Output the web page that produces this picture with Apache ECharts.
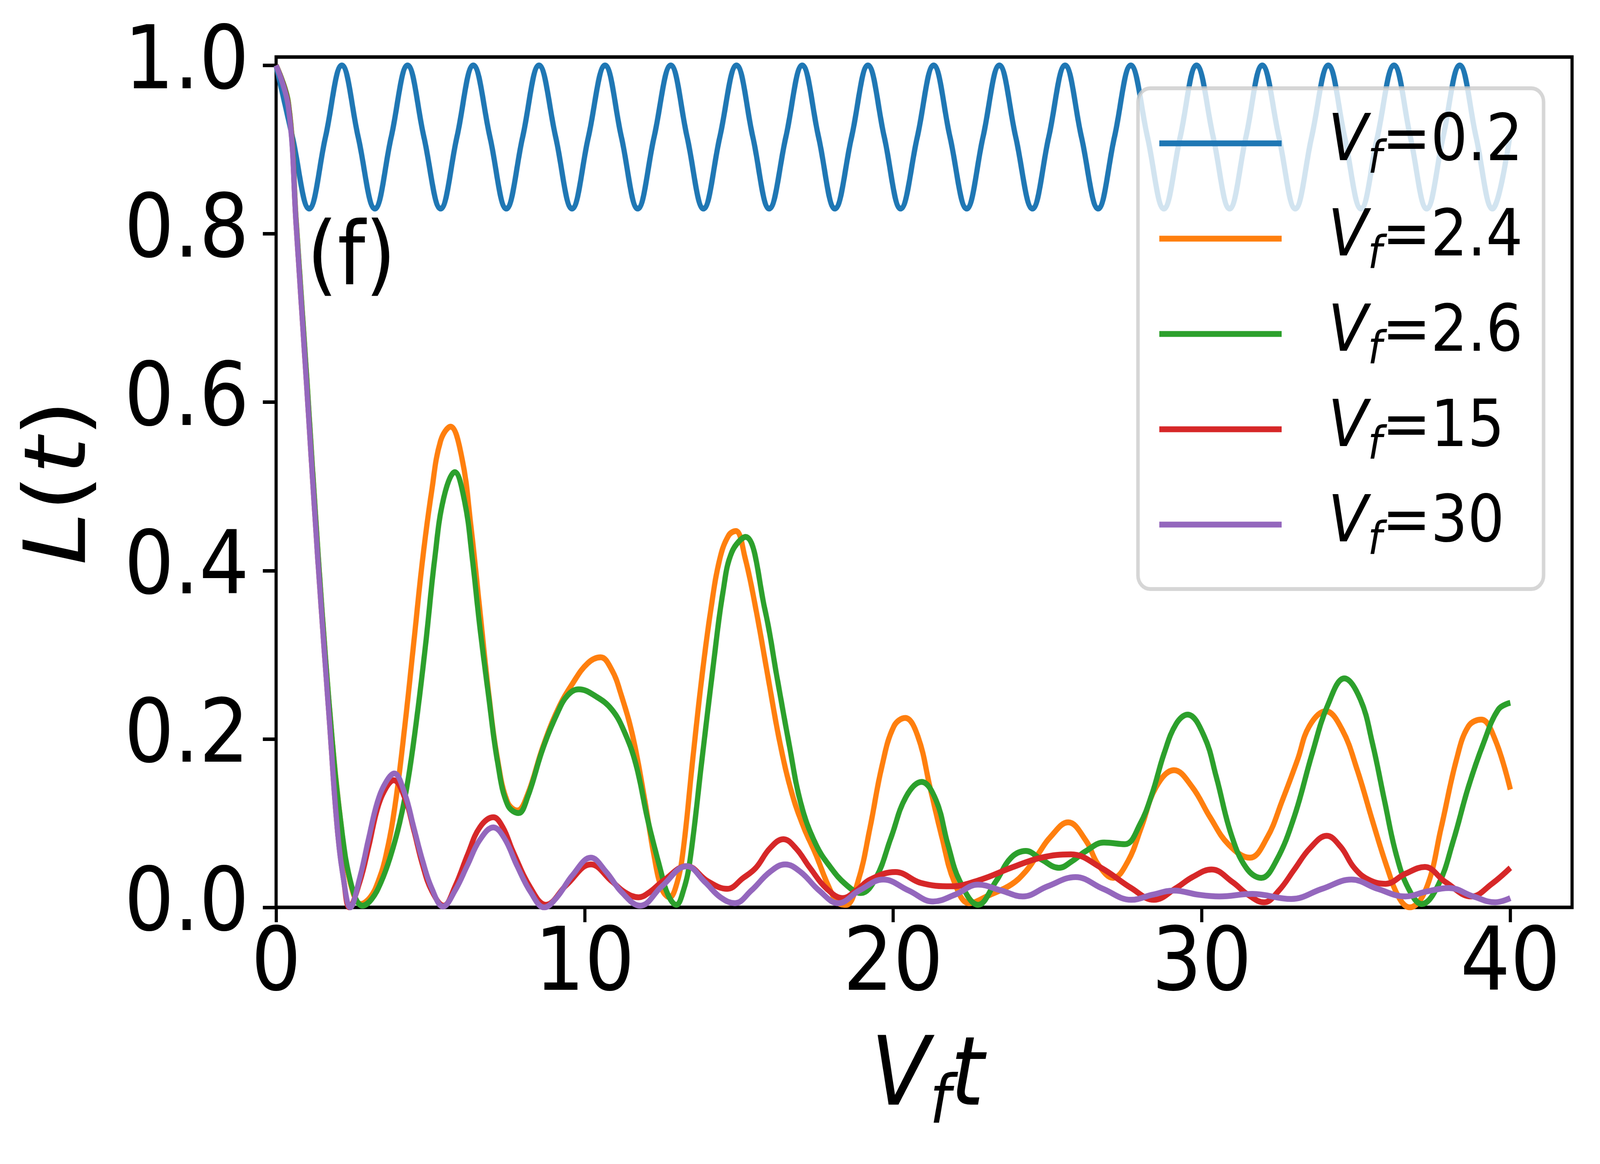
<!DOCTYPE html>
<html>
<head>
<meta charset="utf-8">
<script src="https://cdn.jsdelivr.net/npm/echarts@6/dist/echarts.min.js"></script>
<style>
    html, body {margin: 0; padding: 0; background: #fff; overflow: hidden;}
    #wrap {position: relative; overflow: hidden;}
    #chart {width: 4578px; height: 2980px; transform-origin: 0 0;}
</style>
</head>
<body>
<div id="wrap"><div id="chart"></div></div>
<script>
// ticks
const xTicks = [0, 10, 20, 30, 40];
const yTicks = [0, 0.2, 0.4, 0.6, 0.8, 1.0];

// series names, legend values, colours (tab10)
const names = ['Vf=0.2', 'Vf=2.4', 'Vf=2.6', 'Vf=15', 'Vf=30'];
const legendValues = ['0.2', '2.4', '2.6', '15', '30'];
const colors = ['#1f77b4', '#ff7f0e', '#2ca02c', '#d62728', '#9467bd'];

// Vf=0.2 : peaks, mid points, troughs
const blueT = [0, 0.53, 1.07, 1.60, 2.13, 2.66, 3.20, 3.73, 4.26, 4.79, 5.33, 5.86, 6.39, 6.93, 7.46, 7.99,
    8.52, 9.06, 9.59, 10.12, 10.66, 11.19, 11.72, 12.25, 12.79, 13.32, 13.85, 14.38, 14.92, 15.45, 15.98,
    16.52, 17.05, 17.58, 18.11, 18.65, 19.18, 19.71, 20.24, 20.78, 21.31, 21.84, 22.38, 22.91, 23.44, 23.97,
    24.51, 25.04, 25.57, 26.10, 26.64, 27.17, 27.70, 28.24, 28.77, 29.30, 29.83, 30.37, 30.90, 31.43, 31.96,
    32.50, 33.03, 33.56, 34.10, 34.63, 35.16, 35.69, 36.23, 36.76, 37.29, 37.82, 38.36, 38.89, 39.42, 40.0];
const blueL = [1.0, 0.915, 0.83, 0.915, 1.0, 0.915, 0.83, 0.915, 1.0, 0.915, 0.83, 0.915, 1.0, 0.915, 0.83, 0.915,
    1.0, 0.915, 0.83, 0.915, 1.0, 0.915, 0.83, 0.915, 1.0, 0.915, 0.83, 0.915, 1.0, 0.915, 0.83, 0.915,
    1.0, 0.915, 0.83, 0.915, 1.0, 0.915, 0.83, 0.915, 1.0, 0.915, 0.83, 0.915, 1.0, 0.915, 0.83, 0.915,
    1.0, 0.915, 0.83, 0.915, 1.0, 0.915, 0.83, 0.915, 1.0, 0.915, 0.83, 0.915, 1.0, 0.915, 0.83, 0.915,
    1.0, 0.915, 0.83, 0.915, 1.0, 0.915, 0.83, 0.915, 1.0, 0.915, 0.83, 0.92];

// Vf=2.4
const orange = [[0, 1.0], [0.4, 0.955], [0.65, 0.815], [1.0, 0.625], [1.35, 0.425], [1.75, 0.228], [2.1, 0.1],
    [2.4, 0.03], [2.75, 0.004], [3.05, 0.012], [3.3, 0.03], [3.55, 0.06], [3.85, 0.12], [4.17, 0.215],
    [4.46, 0.314], [4.75, 0.414], [5.04, 0.494], [5.33, 0.554], [5.65, 0.571], [6.02, 0.534], [6.31, 0.454],
    [6.6, 0.354], [6.89, 0.254], [7.18, 0.175], [7.5, 0.125], [7.82, 0.115], [8.16, 0.135], [8.64, 0.19],
    [9.13, 0.235], [9.61, 0.266], [10.1, 0.29], [10.52, 0.297], [10.88, 0.282], [11.17, 0.254], [11.56, 0.203],
    [11.95, 0.127], [12.24, 0.063], [12.5, 0.022], [12.75, 0.012], [13.0, 0.03], [13.2, 0.07], [13.5, 0.175],
    [13.8, 0.274], [14.09, 0.354], [14.38, 0.414], [14.67, 0.442], [14.9, 0.447], [15.2, 0.415], [15.55, 0.354],
    [15.94, 0.274], [16.33, 0.195], [16.72, 0.135], [17.1, 0.095], [17.49, 0.063], [17.88, 0.027], [18.2, 0.006],
    [18.47, 0.003], [18.86, 0.031], [19.25, 0.095], [19.63, 0.167], [20.02, 0.215], [20.39, 0.225], [20.8, 0.203],
    [21.19, 0.143], [21.58, 0.083], [21.97, 0.031], [22.46, 0.005], [23.14, 0.015], [23.82, 0.027], [24.3, 0.043],
    [24.69, 0.063], [25.08, 0.083], [25.67, 0.101], [26.25, 0.079], [26.64, 0.051], [27.13, 0.035], [27.61, 0.055],
    [28.04, 0.095], [28.52, 0.143], [29.1, 0.163], [29.69, 0.143], [30.27, 0.107], [30.86, 0.075], [31.56, 0.059],
    [32.12, 0.083], [32.61, 0.127], [33.1, 0.175], [33.48, 0.215], [34.02, 0.233], [34.55, 0.211], [35.04, 0.163],
    [35.53, 0.103], [36.01, 0.047], [36.4, 0.011], [36.74, 0.0], [37.28, 0.023], [37.76, 0.095], [38.25, 0.175],
    [38.64, 0.215], [39.06, 0.223], [39.51, 0.199], [40.0, 0.14]];

// Vf=2.6
const green = [[0, 1.0], [0.4, 0.955], [0.65, 0.815], [1.0, 0.625], [1.35, 0.425], [1.75, 0.228], [2.1, 0.1],
    [2.45, 0.025], [2.8, 0.002], [3.1, 0.01], [3.4, 0.03], [3.7, 0.06], [4.0, 0.1], [4.27, 0.15], [4.56, 0.225],
    [4.85, 0.314], [5.14, 0.414], [5.43, 0.486], [5.79, 0.517], [6.11, 0.482], [6.36, 0.414], [6.6, 0.334],
    [6.89, 0.25], [7.18, 0.172], [7.5, 0.122], [7.86, 0.112], [8.16, 0.132], [8.64, 0.188], [9.13, 0.232],
    [9.45, 0.252], [9.81, 0.259], [10.39, 0.25], [10.88, 0.235], [11.27, 0.21], [11.66, 0.17], [12.05, 0.103],
    [12.44, 0.047], [12.7, 0.015], [12.97, 0.003], [13.2, 0.02], [13.41, 0.055], [13.8, 0.175], [14.19, 0.294],
    [14.48, 0.374], [14.77, 0.422], [15.21, 0.44], [15.84, 0.354], [16.23, 0.274], [16.62, 0.195], [17.01, 0.123],
    [17.49, 0.075], [17.98, 0.047], [18.47, 0.027], [18.95, 0.017], [19.44, 0.035], [19.93, 0.083], [20.41, 0.131],
    [20.92, 0.149], [21.39, 0.127], [21.77, 0.075], [22.16, 0.031], [22.75, 0.003], [23.33, 0.031], [23.82, 0.059],
    [24.3, 0.067], [24.8, 0.057], [25.37, 0.047], [25.8, 0.055], [26.25, 0.067], [26.83, 0.077], [27.51, 0.075],
    [28.0, 0.099], [28.39, 0.135], [28.78, 0.183], [29.17, 0.218], [29.54, 0.229], [30.08, 0.203], [30.47, 0.155],
    [30.95, 0.087], [31.44, 0.047], [31.93, 0.035], [32.41, 0.055], [32.99, 0.107], [33.58, 0.183], [34.07, 0.239],
    [34.62, 0.272], [35.14, 0.247], [35.53, 0.195], [35.92, 0.127], [36.3, 0.063], [36.69, 0.023], [37.13, 0.004],
    [37.67, 0.027], [38.15, 0.079], [38.64, 0.143], [39.13, 0.195], [39.61, 0.235], [40.0, 0.243]];

// Vf=15
const red = [[0, 1.0], [0.4, 0.952], [0.65, 0.81], [1.0, 0.614], [1.35, 0.414], [1.74, 0.215], [1.98, 0.095],
    [2.2, 0.03], [2.37, 0.0], [2.71, 0.03], [3.0, 0.072], [3.29, 0.118], [3.58, 0.143], [3.81, 0.151], [4.17, 0.13],
    [4.46, 0.092], [4.75, 0.05], [5.04, 0.02], [5.43, 0.002], [5.8, 0.025], [6.21, 0.063], [6.6, 0.095],
    [7.04, 0.107], [7.35, 0.095], [7.67, 0.067], [8.25, 0.023], [8.74, 0.003], [9.42, 0.027], [10.2, 0.051],
    [10.88, 0.031], [11.3, 0.018], [11.75, 0.012], [12.1, 0.018], [12.53, 0.031], [13.31, 0.049], [13.99, 0.031],
    [14.62, 0.022], [15.14, 0.035], [15.55, 0.047], [16.0, 0.07], [16.44, 0.081], [16.85, 0.07], [17.3, 0.047],
    [17.85, 0.022], [18.37, 0.011], [18.8, 0.02], [19.25, 0.033], [20.07, 0.042], [20.9, 0.029], [21.87, 0.025],
    [22.84, 0.033], [23.82, 0.047], [24.79, 0.059], [25.76, 0.063], [26.74, 0.047], [27.71, 0.023], [28.45, 0.009],
    [29.17, 0.023], [29.7, 0.036], [30.32, 0.045], [31.0, 0.03], [31.5, 0.015], [32.02, 0.006], [32.5, 0.02],
    [33.0, 0.045], [33.5, 0.07], [34.05, 0.085], [34.5, 0.072], [34.94, 0.047], [35.4, 0.033], [35.96, 0.028],
    [36.6, 0.04], [37.23, 0.048], [37.9, 0.03], [38.74, 0.013], [39.4, 0.028], [40.0, 0.047]];

// Vf=30
const purple = [[0, 1.0], [0.4, 0.95], [0.65, 0.81], [1.0, 0.614], [1.35, 0.414], [1.74, 0.215], [1.98, 0.095],
    [2.2, 0.03], [2.4, 0.0], [2.71, 0.035], [3.0, 0.082], [3.29, 0.126], [3.58, 0.15], [3.83, 0.159], [4.17, 0.135],
    [4.46, 0.095], [4.75, 0.055], [5.04, 0.023], [5.41, 0.001], [5.8, 0.02], [6.2, 0.05], [6.6, 0.08], [7.04, 0.095],
    [7.4, 0.082], [7.8, 0.05], [8.25, 0.018], [8.69, 0.0], [9.1, 0.012], [9.6, 0.038], [10.2, 0.059], [10.7, 0.042],
    [11.2, 0.018], [11.8, 0.002], [12.5, 0.025], [13.31, 0.049], [13.9, 0.03], [14.4, 0.012], [14.87, 0.005],
    [15.4, 0.02], [16.0, 0.042], [16.5, 0.051], [17.0, 0.042], [17.6, 0.02], [18.22, 0.005], [18.9, 0.02],
    [19.68, 0.033], [20.5, 0.02], [21.29, 0.007], [22.0, 0.015], [22.75, 0.027], [23.5, 0.02], [24.2, 0.013],
    [25.0, 0.025], [25.91, 0.036], [26.8, 0.022], [27.71, 0.009], [28.4, 0.015], [29.1, 0.02], [29.9, 0.015],
    [30.57, 0.013], [31.64, 0.016], [32.9, 0.01], [33.9, 0.022], [34.85, 0.033], [35.7, 0.022], [36.6, 0.013],
    [37.3, 0.019], [38.01, 0.023], [38.8, 0.013], [39.51, 0.006], [40.0, 0.011]];

const font = 'DejaVu Sans';
const seriesData = [blueT.map((t, i) => [t, blueL[i]]), orange, green, red, purple];

// the layout is worked out at 4578x2980; stretch it onto the real viewport
const W = 4578, H = 2980;
const sx = window.innerWidth / W, sy = window.innerHeight / H;
const wrap = document.getElementById('wrap');
const dom = document.getElementById('chart');
wrap.style.width = window.innerWidth + 'px';
wrap.style.height = window.innerHeight + 'px';
dom.style.transform = 'scale(' + sx + ',' + sy + ')';

const chart = echarts.init(dom, null, {renderer: 'canvas', devicePixelRatio: 1});

const option = {
    animation: false,
    backgroundColor: '#fff',
    textStyle: {fontFamily: font},
    grid: {
        left: 790, top: 146, width: 3708, height: 2177,
        show: true, borderColor: '#000', borderWidth: 9, backgroundColor: 'transparent'
    },
    xAxis: {
        type: 'value', min: 0, max: 42,
        axisLine: {show: false},
        splitLine: {show: false},
        axisTick: {show: true, inside: false, length: 38, lineStyle: {color: '#000', width: 9}, customValues: xTicks},
        axisLabel: {
            customValues: xTicks, margin: 40, color: '#000', fontSize: 225, fontFamily: font
        }
    },
    yAxis: {
        type: 'value', min: 0, max: 1.01,
        axisLine: {show: false},
        splitLine: {show: false},
        axisTick: {show: true, inside: false, length: 38, lineStyle: {color: '#000', width: 9}, customValues: yTicks},
        axisLabel: {
            customValues: yTicks, margin: 77, color: '#000', fontSize: 225, fontFamily: font,
            formatter: v => v.toFixed(1)
        }
    },
    legend: {
        orient: 'vertical', left: 3256, top: 226,
        padding: [38, 59, 62, 61],
        itemWidth: 350, itemHeight: 15, itemGap: 38,
        icon: 'rect',
        selectedMode: false,
        backgroundColor: 'rgba(255,255,255,0.8)',
        borderColor: 'rgba(204,204,204,0.8)', borderWidth: 10, borderRadius: 35,
        data: names,
        formatter: name => '{v|V}{f|f}{n|=' + legendValues[names.indexOf(name)] + '}',
        textStyle: {
            padding: [0, 0, 0, 128],
            rich: {
                v: {fontSize: 166, fontStyle: 'italic', fontFamily: font, color: '#000', lineHeight: 200},
                f: {fontSize: 116, fontStyle: 'italic', fontFamily: font, color: '#000', lineHeight: 110, padding: [90, 0, 0, 0]},
                n: {fontSize: 166, fontFamily: font, color: '#000', lineHeight: 200}
            }
        }
    },
    graphic: [
        {
            type: 'text', x: 878, y: 670,
            style: {text: '(f)', font: '225px "DejaVu Sans"', fill: '#000', align: 'left', verticalAlign: 'middle'}
        },
        {
            type: 'text', x: 2654, y: 2764,
            style: {
                text: '{v|V}{f|f}{v|t}', align: 'center', verticalAlign: 'middle',
                rich: {
                    v: {fontSize: 245, fontStyle: 'italic', fontFamily: font, fill: '#000', lineHeight: 300},
                    f: {fontSize: 171, fontStyle: 'italic', fontFamily: font, fill: '#000', lineHeight: 168, padding: [132, 0, 0, 0]}
                }
            }
        },
        {
            type: 'text', x: 179, y: 1235, rotation: Math.PI / 2,
            style: {
                text: '{v|L}{n|(}{v|t}{n|)}', align: 'center', verticalAlign: 'middle',
                rich: {
                    v: {fontSize: 245, fontStyle: 'italic', fontFamily: font, fill: '#000', lineHeight: 300},
                    n: {fontSize: 245, fontFamily: font, fill: '#000', lineHeight: 300}
                }
            }
        }
    ],
    series: names.map((name, i) => ({
        name: name,
        type: 'line',
        data: seriesData[i],
        showSymbol: false,
        smooth: 0.4,
        color: colors[i],
        lineStyle: {width: 15, color: colors[i]},
        emphasis: {disabled: true}
    }))
};

chart.setOption(option);
</script>
</body>
</html>
